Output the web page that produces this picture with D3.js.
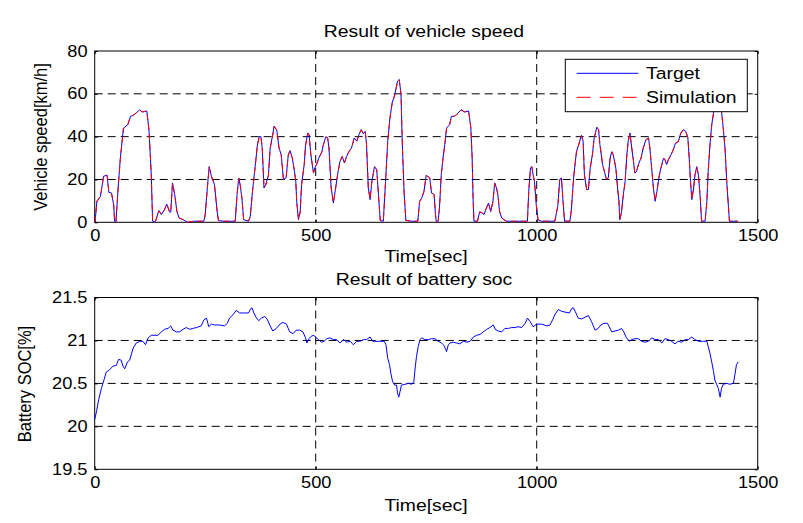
<!DOCTYPE html>
<html>
<head>
<meta charset="utf-8">
<script src="https://cdn.jsdelivr.net/npm/d3@7"></script>
<style>
  body { margin: 0; background: #fff; }
  text { font-family: "Liberation Sans", Arial, sans-serif; fill: #000; }
</style>
</head>
<body>
<script>
// speed profile (time in sec)
const speedTime = [
  0, 1, 5, 13, 20, 28, 32, 38, 43, 45,
  48, 53, 58, 65, 75, 81, 88, 102, 107, 118,
  123, 128, 131, 137, 145, 151, 158, 163, 169, 172,
  176, 181, 186, 191, 201, 209, 224, 247, 250, 256,
  259, 264, 271, 277, 280, 292, 318, 322, 326, 329,
  333, 337, 348, 352, 357, 363, 368, 372, 376, 379,
  383, 387, 393, 397, 402, 406, 412, 417, 422, 427,
  433, 438, 442, 447, 452, 455, 457, 461, 465, 468,
  474, 477, 482, 485, 489, 495, 498, 502, 507, 514,
  517, 523, 527, 530, 535, 540, 544, 550, 555, 560,
  565, 570, 575, 581, 587, 593, 598, 603, 608, 612,
  615, 619, 623, 627, 633, 638, 642, 646, 653, 658,
  663, 668, 673, 679, 685, 689, 693, 696, 700, 704,
  717, 731, 735, 740, 745, 750, 758, 762, 768, 771,
  773, 777, 780, 784, 788, 792, 796, 803, 807, 814,
  822, 829, 837, 846, 851, 854, 856, 858, 866, 871,
  876, 881, 886, 891, 896, 901, 905, 909, 912, 916,
  921, 931, 950, 979, 982, 986, 989, 992, 995, 999,
  1003, 1010, 1041, 1048, 1052, 1056, 1059, 1063, 1075, 1078,
  1084, 1090, 1095, 1101, 1105, 1108, 1113, 1117, 1121, 1126,
  1130, 1136, 1140, 1143, 1149, 1153, 1158, 1162, 1166, 1170,
  1173, 1179, 1183, 1186, 1188, 1192, 1196, 1200, 1204, 1207,
  1211, 1215, 1219, 1222, 1226, 1230, 1236, 1241, 1247, 1253,
  1256, 1260, 1264, 1268, 1272, 1277, 1281, 1287, 1290, 1294,
  1298, 1304, 1309, 1314, 1320, 1326, 1332, 1337, 1342, 1345,
  1348, 1351, 1355, 1358, 1362, 1366, 1370, 1373, 1381, 1385,
  1388, 1392, 1396, 1400, 1404, 1408, 1412, 1418, 1422, 1426,
  1430, 1434, 1436, 1455
];
const targetSpeed = [
  0, 0.5, 10, 12, 21.5, 22, 14, 13.7, 8, 0.5,
  0, 16, 30, 44, 45.6, 49.5, 50, 52.6, 51.5, 52,
  42.5, 22, 0.5, 0, 5.5, 3.6, 6, 8.5, 5, 4.7,
  18.4, 13, 5, 2, 1.2, 0, 0.5, 0.5, 3.6, 19,
  26, 21.5, 17.6, 5, 0.8, 0.5, 0.5, 13, 20.7, 17.6,
  11.4, 1.2, 0.5, 2.8, 14.5, 26, 36, 40, 40, 34.7,
  16, 17.6, 22, 34.7, 40, 44.9, 43, 34.7, 31.6, 20,
  20.7, 31.6, 33.5, 30, 23.8, 19, 9.8, 1.2, 5, 17.6,
  27, 36, 41.7, 41, 31.6, 23, 25.4, 27, 30, 33,
  36, 40, 39.4, 34.7, 16, 9, 14.5, 23, 28.5, 30.8,
  27.7, 30.8, 33, 34.7, 39.4, 37.9, 41, 43.3, 41.3, 42.5,
  36.3, 16, 10.6, 19, 26, 24.6, 13, 0.8, 0.5, 19,
  37.9, 48.8, 55.8, 59.7, 65.9, 66.7, 59.7, 36.3, 13.7, 0.8,
  0.5, 0.5, 9.8, 11.4, 14.5, 22, 20.7, 13.7, 13, 3.6,
  0, 0.5, 6.7, 22, 30, 36.3, 44, 45.6, 49.5, 49.5,
  51, 52.6, 51.5, 52, 44, 30, 11.4, 0.5, 0.5, 5,
  4.4, 3.6, 6.7, 9, 5, 9.8, 18.4, 16, 13, 5,
  2, 0.5, 0.5, 0.5, 14.5, 25.4, 26, 22, 19, 8,
  1.2, 0.5, 0.5, 8, 20, 20.7, 11.4, 0.5, 0.5, 5,
  22, 33, 36.3, 40.6, 37.9, 22, 15.3, 15.3, 25.4, 31.6,
  39.4, 44.4, 43.3, 36.3, 27, 23.8, 20, 20.7, 30, 33,
  31.6, 25.4, 16, 9.8, 1.2, 5, 13, 19, 31.6, 37.9,
  41.7, 34.7, 28.5, 23, 23.8, 27, 30, 34.7, 38.6, 39.4,
  34.7, 25.4, 16, 9.8, 14.5, 21.5, 25.4, 30, 29.3, 27,
  29.3, 31.6, 34, 37, 37.5, 41.7, 43.3, 42.5, 39.4, 30,
  19, 10.6, 16, 22, 26, 22, 11.4, 0.5, 0.5, 9.8,
  23.8, 36.3, 45.6, 51, 58, 65, 63, 52, 44, 34.7,
  19, 6.7, 0.5, 0.5
];
const simSpeed = [
  0, 0.6, 9.5, 12.3, 21.2, 22, 14.3, 13.5, 8.2, 0.6,
  0, 15.6, 29.5, 43.6, 45.8, 49.2, 50.2, 52.4, 51.6, 51.8,
  42.8, 22.4, 0.6, 0, 5.3, 3.8, 5.8, 8.6, 5.2, 4.6,
  18, 13.2, 5.2, 2.1, 1.1, 0, 0.5, 0.5, 3.4, 18.6,
  25.6, 21.7, 17.4, 5.3, 0.8, 0.5, 0.5, 12.6, 20.5, 17.8,
  11.6, 1.3, 0.5, 2.7, 14.2, 25.7, 35.7, 39.8, 40.1, 34.9,
  16.3, 17.4, 21.8, 34.4, 39.8, 44.7, 43.1, 34.9, 31.4, 20.2,
  20.6, 31.3, 33.4, 30.2, 24, 19.2, 10, 1.3, 4.8, 17.3,
  26.7, 35.8, 41.5, 41.1, 31.8, 23.2, 25.2, 26.9, 29.8, 32.8,
  35.8, 39.8, 39.5, 34.9, 16.3, 9.2, 14.3, 22.8, 28.3, 30.7,
  27.9, 30.6, 32.9, 34.6, 39.2, 38, 40.8, 43.1, 41.4, 42.4,
  36.5, 16.3, 10.8, 18.8, 25.8, 24.7, 13.2, 0.9, 0.5, 18.7,
  37.6, 48.6, 55.6, 59.5, 65.6, 66.5, 59.9, 36.6, 14, 0.9,
  0.5, 0.5, 9.6, 11.5, 14.3, 21.8, 20.8, 13.9, 12.8, 3.8,
  0, 0.5, 6.5, 21.7, 29.8, 36.1, 43.8, 45.7, 49.3, 49.6,
  50.8, 52.4, 51.6, 51.9, 44.3, 30.3, 11.7, 0.6, 0.5, 4.8,
  4.5, 3.7, 6.5, 8.8, 5.2, 9.6, 18.1, 16.2, 13.2, 5.2,
  2.1, 0.5, 0.5, 0.5, 14.2, 25.2, 25.9, 22.2, 19.1, 8.3,
  1.3, 0.5, 0.5, 7.7, 19.7, 20.8, 11.6, 0.6, 0.5, 4.8,
  21.7, 32.8, 36.1, 40.4, 38, 22.3, 15.4, 15.2, 25.1, 31.4,
  39.2, 44.2, 43.4, 36.5, 27.2, 23.9, 20.1, 20.6, 29.7, 32.8,
  31.7, 25.6, 16.2, 10, 1.3, 4.8, 12.8, 18.8, 31.3, 37.7,
  41.5, 34.9, 28.7, 23.2, 23.7, 26.8, 29.8, 34.5, 38.4, 39.3,
  34.9, 25.6, 16.2, 10, 14.3, 21.3, 25.2, 29.8, 29.4, 27.1,
  29.2, 31.4, 33.8, 36.8, 37.6, 41.5, 43.1, 42.6, 39.6, 30.3,
  19.2, 10.8, 15.8, 21.8, 25.8, 22.2, 11.7, 0.6, 0.5, 9.5,
  23.5, 36, 45.4, 50.8, 57.8, 64.8, 63.2, 52.3, 44.2, 35,
  19.3, 6.9, 0.6, 0.5
];

// battery state of charge
const socTime = [
  0, 4, 9, 15, 21, 26, 34, 41, 49, 54,
  60, 64, 68, 74, 79, 87, 94, 102, 109, 115,
  121, 128, 136, 143, 151, 158, 166, 172, 177, 185,
  192, 200, 207, 215, 222, 230, 241, 247, 253, 258,
  264, 271, 283, 294, 300, 305, 313, 320, 328, 339,
  348, 353, 356, 360, 366, 371, 377, 385, 391, 396,
  403, 411, 419, 426, 434, 441, 449, 456, 464, 471,
  477, 480, 485, 490, 496, 501, 506, 513, 519, 525,
  532, 540, 547, 555, 563, 570, 578, 585, 593, 600,
  608, 615, 623, 629, 634, 645, 655, 659, 663, 667,
  670, 674, 679, 683, 685, 688, 691, 694, 702, 710,
  717, 722, 725, 728, 732, 736, 740, 747, 755, 762,
  770, 777, 785, 789, 793, 796, 800, 804, 811, 819,
  826, 834, 842, 849, 857, 864, 872, 879, 887, 894,
  902, 906, 913, 921, 928, 936, 943, 951, 958, 966,
  974, 979, 985, 992, 1000, 1011, 1023, 1030, 1036, 1041,
  1049, 1056, 1064, 1074, 1079, 1083, 1087, 1094, 1102, 1109,
  1117, 1124, 1132, 1139, 1145, 1152, 1160, 1164, 1170, 1177,
  1185, 1192, 1197, 1203, 1210, 1215, 1222, 1230, 1237, 1245,
  1253, 1260, 1268, 1275, 1283, 1290, 1298, 1305, 1313, 1320,
  1328, 1336, 1343, 1351, 1358, 1366, 1377, 1385, 1388, 1392,
  1396, 1400, 1403, 1407, 1411, 1415, 1418, 1422, 1430, 1437,
  1445, 1449, 1452, 1456
];
const socValue = [
  20.08, 20.17, 20.31, 20.44, 20.54, 20.63, 20.66, 20.70, 20.71, 20.78,
  20.77, 20.70, 20.67, 20.75, 20.77, 20.91, 20.97, 20.99, 20.99, 20.95,
  21.03, 21.06, 21.06, 21.06, 21.10, 21.13, 21.14, 21.17, 21.12, 21.10,
  21.10, 21.13, 21.15, 21.13, 21.14, 21.15, 21.17, 21.24, 21.26, 21.16,
  21.19, 21.18, 21.18, 21.17, 21.20, 21.26, 21.30, 21.35, 21.32, 21.32,
  21.32, 21.37, 21.38, 21.32, 21.26, 21.23, 21.26, 21.28, 21.24, 21.18,
  21.11, 21.14, 21.19, 21.21, 21.19, 21.10, 21.08, 21.12, 21.12, 21.10,
  21.03, 20.97, 21.02, 21.05, 21.06, 21.03, 21.01, 20.98, 20.99, 21.02,
  21.03, 21.01, 21.01, 20.97, 21.01, 20.98, 20.99, 20.95, 20.99, 20.99,
  21.01, 21.01, 21.04, 20.99, 20.99, 20.99, 20.99, 20.95, 20.79, 20.72,
  20.62, 20.52, 20.48, 20.48, 20.39, 20.34, 20.41, 20.48, 20.49, 20.50,
  20.49, 20.52, 20.68, 20.81, 20.93, 21.01, 21.03, 21.01, 21.01, 21.02,
  21.02, 20.99, 20.97, 20.95, 20.91, 20.87, 20.95, 20.97, 20.98, 20.97,
  20.96, 20.99, 20.98, 20.99, 21.04, 21.06, 21.07, 21.10, 21.13, 21.15,
  21.18, 21.13, 21.11, 21.10, 21.14, 21.14, 21.15, 21.15, 21.16, 21.15,
  21.20, 21.26, 21.22, 21.16, 21.19, 21.19, 21.17, 21.18, 21.24, 21.30,
  21.36, 21.34, 21.33, 21.32, 21.37, 21.38, 21.34, 21.26, 21.25, 21.27,
  21.29, 21.22, 21.12, 21.14, 21.18, 21.20, 21.20, 21.16, 21.10, 21.11,
  21.12, 21.14, 21.10, 21.03, 20.99, 21.01, 21.02, 21.02, 20.99, 20.98,
  20.99, 21.03, 21.01, 21.01, 20.97, 21.02, 21.01, 20.99, 20.96, 20.99,
  20.98, 21.01, 21.01, 21.04, 21.01, 20.99, 20.99, 20.99, 20.93, 20.85,
  20.75, 20.64, 20.54, 20.49, 20.44, 20.34, 20.44, 20.49, 20.50, 20.49,
  20.50, 20.62, 20.72, 20.75
];

const xTicks = [0, 500, 1000, 1500];
const speedTicks = [0, 20, 40, 60, 80];
const socTicks = [19.5, 20, 20.5, 21, 21.5];

const canvWidth = 803, canvHeight = 523;
const SX = 1.14; // text in the picture is a bit wider than tall

const svg = d3.select("body").append("svg")
    .attr("width", canvWidth)
    .attr("height", canvHeight);

// little helper for horizontally stretched text
function label(parent, x, y, str, size, anchor, rot) {
    const g = parent.append("g")
        .attr("transform", "translate(" + x + "," + y + ") scale(" + SX + ",1)" + (rot ? " rotate(-90)" : ""));
    g.append("text")
        .attr("text-anchor", anchor || "middle")
        .attr("font-size", size + "px")
        .text(str);
    return g;
}

const xScale = d3.scaleLinear().domain([0, 1500]).range([94.7, 757.7]);

function makePanel(top, bottom, yDomain, yTicks, fmt) {
    const yScale = d3.scaleLinear().domain(yDomain).range([bottom, top]);
    const g = svg.append("g");

    // grid (dashed)
    g.selectAll(".hgrid")
        .data(yTicks.filter(d => d != yDomain[0] && d != yDomain[1]))
        .join("line")
        .attr("x1", xScale(0)).attr("x2", xScale(1500))
        .attr("y1", d => yScale(d)).attr("y2", d => yScale(d))
        .attr("stroke", "#000").attr("stroke-dasharray", "8,5");
    g.selectAll(".vgrid")
        .data(xTicks.filter(d => d != 0 && d != 1500))
        .join("line")
        .attr("x1", d => xScale(d)).attr("x2", d => xScale(d))
        .attr("y1", top).attr("y2", bottom)
        .attr("stroke", "#000").attr("stroke-dasharray", "8,5");

    // axes, ticks point inward like matlab
    const ax = [
        g.append("g").attr("transform", "translate(0," + bottom + ")")
            .call(d3.axisBottom(xScale).tickValues(xTicks).tickSizeInner(-3).tickSizeOuter(0).tickPadding(7.3).tickFormat(d3.format("d"))),
        g.append("g").attr("transform", "translate(0," + top + ")")
            .call(d3.axisTop(xScale).tickValues(xTicks).tickSizeInner(-3).tickSizeOuter(0).tickFormat("")),
        g.append("g").attr("transform", "translate(" + xScale(0) + ",0)")
            .call(d3.axisLeft(yScale).tickValues(yTicks).tickSizeInner(-3).tickSizeOuter(0).tickPadding(6.3).tickFormat(fmt)),
        g.append("g").attr("transform", "translate(" + xScale(1500) + ",0)")
            .call(d3.axisRight(yScale).tickValues(yTicks).tickSizeInner(-3).tickSizeOuter(0).tickFormat(""))
    ];
    ax.forEach(a => {
        a.select(".domain").remove();
        a.attr("font-size", null).attr("font-family", null);
        a.selectAll("line").attr("stroke", "#000");
        a.selectAll("text")
            .attr("font-size", "16px")
            .attr("fill", "#000")
            .attr("transform", "scale(" + SX + ",1)");
    });

    // frame
    g.append("rect")
        .attr("x", xScale(0)).attr("y", top)
        .attr("width", xScale(1500) - xScale(0)).attr("height", bottom - top)
        .attr("fill", "none").attr("stroke", "#000").attr("stroke-width", 1);

    return yScale;
}

// ---- top panel: vehicle speed
const ySpeed = makePanel(51, 222.3, [0, 80], speedTicks, d3.format("d"));

const speedLine = d3.line()
    .x(d => xScale(d[0]))
    .y(d => ySpeed(d[1]));

svg.append("path")
    .datum(d3.zip(speedTime, targetSpeed))
    .attr("d", speedLine)
    .attr("fill", "none")
    .attr("stroke", "#0000ff")
    .attr("stroke-width", 1);

svg.append("path")
    .datum(d3.zip(speedTime, simSpeed))
    .attr("d", speedLine)
    .attr("fill", "none")
    .attr("stroke", "#ff0000")
    .attr("stroke-width", 1)
    .attr("stroke-dasharray", "6,4");

// legend
const legend = svg.append("g");
legend.append("rect")
    .attr("x", 565.3).attr("y", 59.3)
    .attr("width", 182).attr("height", 52.4)
    .attr("fill", "#fff").attr("stroke", "#000");
legend.append("line")
    .attr("x1", 576.7).attr("x2", 638.3).attr("y1", 73.3).attr("y2", 73.3)
    .attr("stroke", "#0000ff");
legend.append("line")
    .attr("x1", 576.7).attr("x2", 638.3).attr("y1", 97.3).attr("y2", 97.3)
    .attr("stroke", "#ff0000").attr("stroke-dasharray", "14,9");
label(legend, 646, 79, "Target", 17, "start");
label(legend, 646, 103, "Simulation", 17, "start");

label(svg, 424, 37, "Result of vehicle speed", 17);
label(svg, 426, 262, "Time[sec]", 17);
label(svg, 47, 137, "Vehicle speed[km/h]", 16.5, "middle", true);

// ---- bottom panel: battery soc
const ySoc = makePanel(297.5, 469.3, [19.5, 21.5], socTicks, d => d3.format("")(d));

svg.append("path")
    .datum(d3.zip(socTime, socValue))
    .attr("d", d3.line().x(d => xScale(d[0])).y(d => ySoc(d[1])))
    .attr("fill", "none")
    .attr("stroke", "#0000ff")
    .attr("stroke-width", 1);

label(svg, 424, 285, "Result of battery soc", 17);
label(svg, 426, 511, "Time[sec]", 17);
label(svg, 31, 384, "Battery SOC[%]", 16.5, "middle", true);
</script>
</body>
</html>
